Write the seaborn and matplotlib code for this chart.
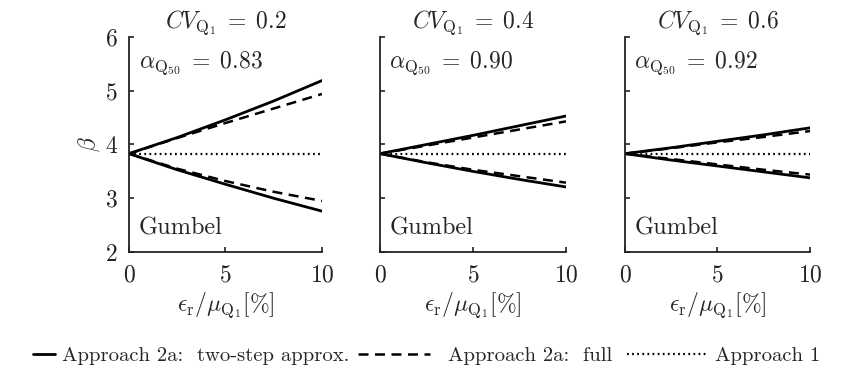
import matplotlib
matplotlib.use("Agg")
import matplotlib.pyplot as plt
import seaborn as sns
import numpy as np
import pandas as pd
from matplotlib.lines import Line2D

# ---- data ----
eps = [0, 2.5, 5, 7.5, 10]
cv_labels = ["0.2", "0.4", "0.6"]
alpha_labels = ["0.83", "0.90", "0.92"]

p1_two_up = [3.83, 4.13, 4.46, 4.81, 5.19]
p1_full_up = [3.83, 4.12, 4.40, 4.67, 4.94]
p1_two_lo = [3.83, 3.53, 3.26, 3.00, 2.76]
p1_full_lo = [3.83, 3.55, 3.32, 3.12, 2.95]

p2_two_up = [3.83, 4.00, 4.17, 4.35, 4.53]
p2_full_up = [3.83, 3.98, 4.13, 4.28, 4.43]
p2_two_lo = [3.83, 3.66, 3.50, 3.35, 3.21]
p2_full_lo = [3.83, 3.67, 3.53, 3.41, 3.29]

p3_two_up = [3.83, 3.94, 4.06, 4.18, 4.31]
p3_full_up = [3.83, 3.93, 4.04, 4.14, 4.25]
p3_two_lo = [3.83, 3.71, 3.60, 3.49, 3.38]
p3_full_lo = [3.83, 3.73, 3.63, 3.53, 3.44]

approach1 = [3.83, 3.83, 3.83, 3.83, 3.83]

panels = [
    (p1_two_up, p1_two_lo, p1_full_up, p1_full_lo),
    (p2_two_up, p2_two_lo, p2_full_up, p2_full_lo),
    (p3_two_up, p3_two_lo, p3_full_up, p3_full_lo),
]

yticks = [2, 3, 4, 5, 6]
xticks = [0, 5, 10]
legend_labels = ["Approach 2a:  two-step approx.", "Approach 2a:  full", "Approach 1"]

# ---- style ----
sns.set_style("ticks")
plt.rcParams["font.family"] = ["serif"]
plt.rcParams["font.serif"] = ["cmr10", "DejaVu Serif"]
plt.rcParams["mathtext.fontset"] = "cm"
plt.rcParams["axes.formatter.use_mathtext"] = True
plt.rcParams["axes.unicode_minus"] = False

fig = plt.figure(figsize=(8.45, 3.78), dpi=100)
W, H = 845.0, 378.0
boxes = [(129, 322), (380, 566), (625, 810)]
top_px, bot_px = 37, 252

solid_kw = dict(color="black", lw=2.0, linestyle="-")
dash_kw = dict(color="black", lw=1.8, linestyle=(0, (4.0, 2.6)))
dot_kw = dict(color="black", lw=1.6, linestyle=(0, (0.8, 1.5)))

FS = 17
for i, (x0, x1) in enumerate(boxes):
    ax = fig.add_axes([x0 / W, 1 - bot_px / H, (x1 - x0) / W, (bot_px - top_px) / H])
    two_up, two_lo, full_up, full_lo = panels[i]
    sns.lineplot(x=eps, y=approach1, ax=ax, **dot_kw)
    sns.lineplot(x=eps, y=full_up, ax=ax, **dash_kw)
    sns.lineplot(x=eps, y=full_lo, ax=ax, **dash_kw)
    sns.lineplot(x=eps, y=two_up, ax=ax, **solid_kw)
    sns.lineplot(x=eps, y=two_lo, ax=ax, **solid_kw)

    ax.set_xlim(0, 10)
    ax.set_ylim(2, 6)
    ax.set_xticks(xticks)
    ax.set_yticks(yticks)
    sns.despine(ax=ax)
    for s in ["left", "bottom"]:
        ax.spines[s].set_linewidth(1.3)
        ax.spines[s].set_color("#222222")
    ax.tick_params(direction="in", length=3.5, width=1.2, labelsize=FS,
                   colors="#222222", labelcolor="#222222")
    ax.tick_params(axis="y", pad=8)
    ax.tick_params(axis="x", pad=9)
    if i == 0:
        ax.set_ylabel(r"$\beta$", fontsize=FS, labelpad=2)
    else:
        ax.set_yticklabels([])
        ax.set_ylabel("")
    ax.set_xlabel(r"$\epsilon_{\mathrm{r}}/\mu_{\mathrm{Q}_1}[\%]$", fontsize=FS, labelpad=3)
    ax.set_title(r"$CV_{\mathrm{Q}_1}\;=\;" + cv_labels[i] + "$", fontsize=FS, pad=3)
    ax.text(0.05, 0.88, r"$\alpha_{\mathrm{Q}_{50}}\;=\;" + alpha_labels[i] + "$",
            transform=ax.transAxes, fontsize=FS, va="center", ha="left")
    ax.text(0.05, 0.11, "Gumbel", transform=ax.transAxes, fontsize=17.5,
            va="center", ha="left")

# ---- legend: fit font size so the three labels span the reference widths ----
renderer = fig.canvas.get_renderer()
target_total = 283 + 167 + 107
base = 15.0
tot = 0.0
for lab in legend_labels:
    t = fig.text(0, 0, lab, fontsize=base)
    tot += t.get_window_extent(renderer=renderer).width
    t.remove()
LFS = float(np.clip(base * target_total / tot, 13, 18))
lfs_px = LFS * 100 / 72.0

entries = [
    (solid_kw, legend_labels[0], 33, 22, 7),
    (dash_kw, legend_labels[1], 358, 72, 18),
    (dot_kw, legend_labels[2], 627, 80, 8),
]
for kw, lab, xstart, hlen, gap in entries:
    fig.legend([Line2D([], [], **kw)], [lab], loc="center left",
               bbox_to_anchor=(xstart / W, 1 - 356 / H), frameon=False,
               fontsize=LFS, handlelength=hlen / lfs_px,
               handletextpad=gap / lfs_px, borderpad=0, borderaxespad=0)

fig.savefig("out.png", dpi=100)
